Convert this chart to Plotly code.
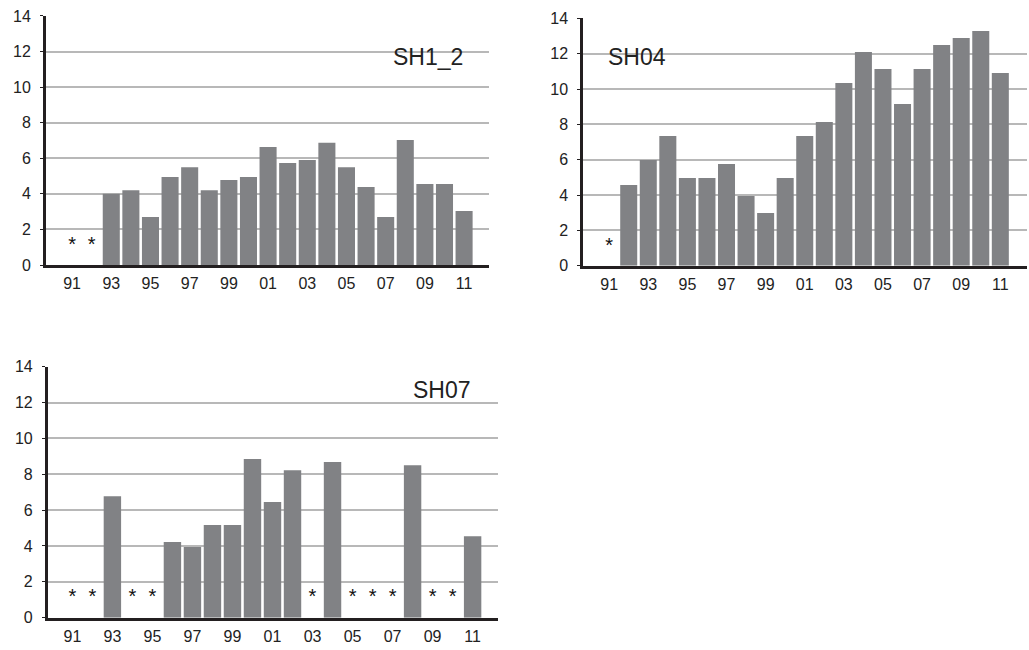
import plotly.graph_objects as go

# years shown on the x axis (two-digit labels)
years = ['91', '92', '93', '94', '95', '96', '97', '98', '99', '00', '01',
         '02', '03', '04', '05', '06', '07', '08', '09', '10', '11']
tick_years = years[::2]

# None = no data (marked with an asterisk)
sh1_2 = [None, None, 4.0, 4.2, 2.7, 4.95, 5.5, 4.2, 4.78, 4.95, 6.64,
         5.74, 5.9, 6.87, 5.5, 4.39, 2.7, 7.03, 4.56, 4.56, 3.04]
sh04 = [None, 4.57, 5.98, 7.34, 4.96, 4.96, 5.75, 3.94, 2.98, 4.96, 7.34,
        8.13, 10.34, 12.09, 11.13, 9.15, 11.13, 12.49, 12.89, 13.28, 10.9]
sh07 = [None, None, 6.78, None, None, 4.22, 3.94, 5.17, 5.17, 8.85, 6.45,
        8.23, None, 8.68, None, None, None, 8.51, None, None, 4.55]

star_y = 1.07
bar_color = '#818285'
grid_color = '#b8b8b8'
axis_color = '#231f20'
font = 'Liberation Sans, Arial, sans-serif'

panels = [
    # name, values, x domain, y domain, x range, label pos
    ('SH1_2', sh1_2, [0.0447, 0.4752], [0.5923, 0.9754], [-1.33, 21.27], (0.4159, 0.9354)),
    ('SH04', sh04, [0.5669, 0.9976], [0.5912, 0.9718], [-1.32, 21.34], (0.619, 0.9354)),
    ('SH07', sh07, [0.0466, 0.484], [0.0497, 0.4358], [-1.22, 21.27], (0.4295, 0.40)),
]

fig = go.Figure()
for i, (name, vals, xd, yd, xr, lab) in enumerate(panels):
    n = '' if i == 0 else str(i + 1)
    xa, ya = 'x' + n, 'y' + n
    fig.add_trace(go.Bar(x=years, y=[0 if v is None else v for v in vals],
                         marker=dict(color=bar_color, line_width=0),
                         xaxis=xa, yaxis=ya, showlegend=False))
    missing = [y for y, v in zip(years, vals) if v is None]
    fig.add_trace(go.Scatter(x=missing, y=[star_y] * len(missing), mode='text',
                             text=['*'] * len(missing),
                             textfont=dict(size=20, color='#111111', family=font),
                             xaxis=xa, yaxis=ya, showlegend=False))
    fig.layout['xaxis' + n] = dict(
        domain=xd, anchor=ya, type='category', range=xr, automargin=False,
        tickmode='array', tickvals=tick_years, ticktext=tick_years,
        showline=True, linewidth=3, linecolor=axis_color, showgrid=False,
        ticks='outside', ticklen=2, tickcolor='white',
        tickfont=dict(size=16, color='#222222', family=font))
    fig.layout['yaxis' + n] = dict(
        domain=yd, anchor=xa, range=[0, 14], tickvals=list(range(0, 15, 2)),
        automargin=False,
        showline=True, linewidth=3, linecolor=axis_color,
        showgrid=True, gridcolor=grid_color, gridwidth=1.5, zeroline=False,
        ticks='outside', ticklen=3, tickcolor=axis_color,
        ticklabelstandoff=6,
        tickfont=dict(size=16, color='#222222', family=font))
    fig.add_annotation(x=lab[0], y=lab[1], xref='paper', yref='paper',
                       text=name, showarrow=False,
                       font=dict(size=23, color='#222222', family=font))

fig.update_layout(width=1029, height=650, margin=dict(l=0, r=0, t=0, b=0),
                  plot_bgcolor='white', paper_bgcolor='white', bargap=0.13)

# drop the default page margin so the figure sits at the window's corner
fig.write_html('out.html', config={'displayModeBar': False},
               post_script="document.body.style.margin = '0';")
